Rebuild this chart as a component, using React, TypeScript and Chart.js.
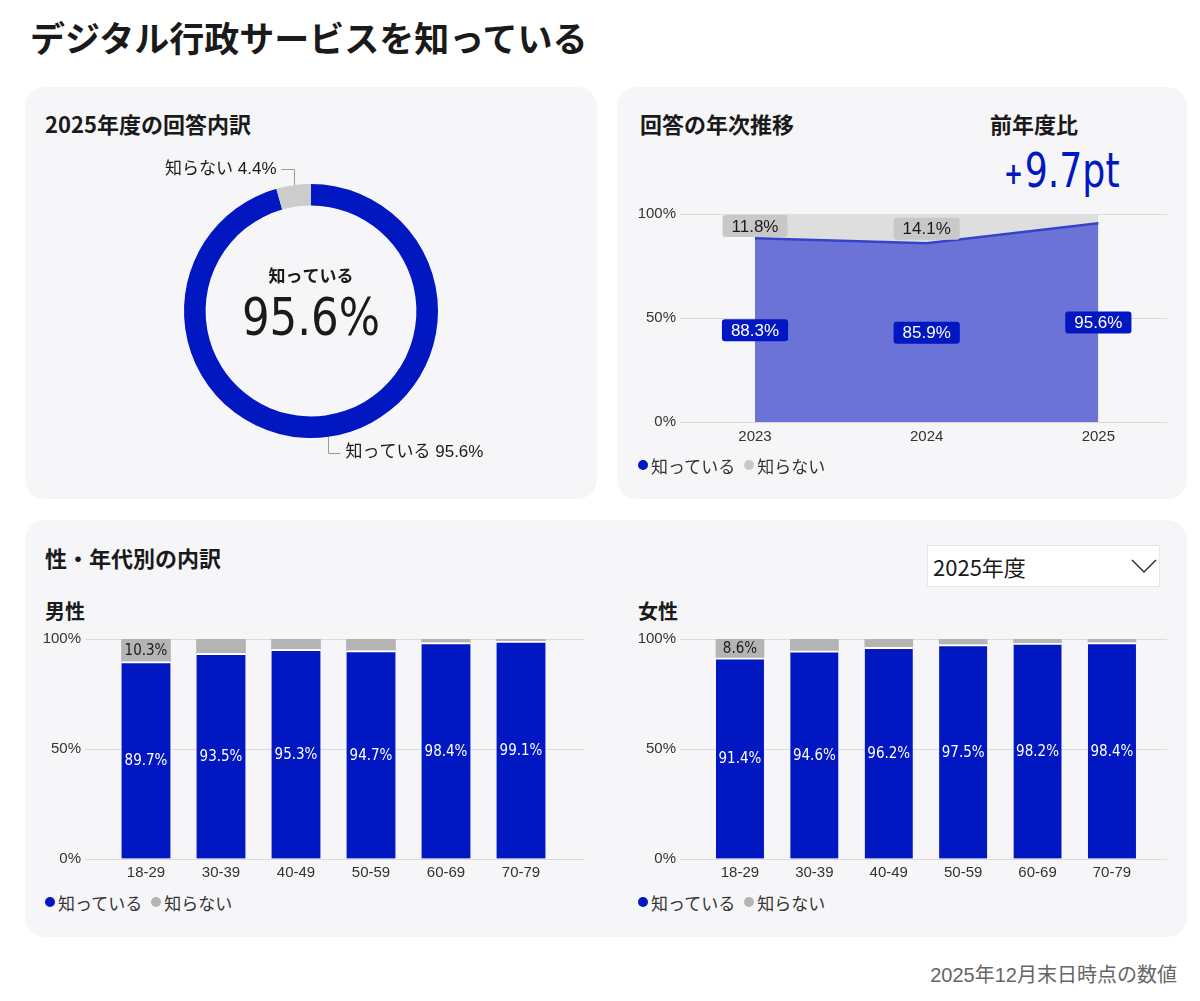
import React, { useEffect, useRef } from 'react';
import { Chart, registerables } from 'chart.js';

Chart.register(...registerables);

// ---------- data ----------
const seriesLabels = ['知っている', '知らない'];
const donutValues = [95.6, 4.4];

const years = [2023, 2024, 2025];
const knowTrend = [88.3, 85.9, 95.6];
const unknownTrend = [11.8, 14.1, 4.4];

const ageGroups = ['18-29', '30-39', '40-49', '50-59', '60-69', '70-79'];
const maleKnow = [89.7, 93.5, 95.3, 94.7, 98.4, 99.1];
const maleUnknown = [10.3, 6.5, 4.7, 5.3, 1.6, 0.9];
const femaleKnow = [91.4, 94.6, 96.2, 97.5, 98.2, 98.4];
const femaleUnknown = [8.6, 5.4, 3.8, 2.5, 1.8, 1.6];

// ---------- style ----------
const BLUE = '#0017c1';
const AREA_BLUE = '#6b74d6';
const AREA_LINE = '#3443c9';
const AREA_GREY = '#dedede';
const LABEL_GREY = '#c8c8c8';
const BAR_GREY = '#b4b4b4';
const PANEL_BG = '#f6f6f8';
const TEXT = '#1a1a1a';
const JP = "'Noto Sans CJK JP', sans-serif";
const SANS = "'Liberation Sans', 'Noto Sans CJK JP', sans-serif";
const COND = "'DejaVu Sans Condensed', 'Liberation Sans Narrow', 'DejaVu Sans', sans-serif";

Chart.defaults.font.family = SANS;

// ---------- plugins ----------
const donutPlugin = {
  id: 'donutLabels',
  afterDraw(chart: any) {
    const ctx = chart.ctx;
    const meta = chart.getDatasetMeta(0);
    const ds = chart.data.datasets[0];
    ctx.save();
    let cx = 0, cy = 0;
    meta.data.forEach((arc: any, i: number) => {
      const p = arc.getProps(['x', 'y', 'startAngle', 'endAngle', 'outerRadius'], true);
      cx = p.x; cy = p.y;
      const mid = (p.startAngle + p.endAngle) / 2;
      const px = p.x + Math.cos(mid) * p.outerRadius;
      const py = p.y + Math.sin(mid) * p.outerRadius;
      const vdir = Math.sin(mid) < 0 ? -1 : 1;
      const hdir = Math.cos(mid) < 0 ? -1 : 1;
      const ey = py + vdir * 16;
      const ex = px + hdir * 12;
      ctx.strokeStyle = '#9a9a9a';
      ctx.lineWidth = 1;
      ctx.beginPath();
      ctx.moveTo(Math.round(px) + 0.5, py);
      ctx.lineTo(Math.round(px) + 0.5, Math.round(ey) + 0.5);
      ctx.lineTo(ex, Math.round(ey) + 0.5);
      ctx.stroke();
      ctx.font = `17px ${SANS}`;
      ctx.fillStyle = TEXT;
      ctx.textBaseline = 'middle';
      ctx.textAlign = hdir < 0 ? 'right' : 'left';
      ctx.fillText(`${chart.data.labels[i]} ${ds.data[i].toFixed(1)}%`, ex + hdir * 5, ey);
    });
    ctx.textAlign = 'center';
    ctx.textBaseline = 'middle';
    ctx.fillStyle = TEXT;
    ctx.font = `bold 17px ${JP}`;
    ctx.fillText(chart.data.labels[0], cx, cy - 35);
    ctx.font = `52px ${COND}`;
    ctx.translate(cx, cy + 10);
    ctx.scale(0.93, 1);
    ctx.fillText(`${ds.data[0].toFixed(1)}%`, 0, 0);
    ctx.restore();
  },
};

function makeSegmentLabels(styles: any[], minHeight: number, boxed: boolean) {
  return {
    id: 'segmentLabels',
    afterDatasetsDraw(chart: any) {
      const ctx = chart.ctx;
      const yScale = chart.scales.y;
      ctx.save();
      chart.data.datasets.forEach((ds: any, di: number) => {
        const meta = chart.getDatasetMeta(di);
        meta.data.forEach((el: any, j: number) => {
          let base = 0;
          for (let k = 0; k < di; k++) base += chart.data.datasets[k].data[j].y;
          const v = ds.data[j].y;
          const top = yScale.getPixelForValue(base + v);
          const bot = yScale.getPixelForValue(base);
          if (bot - top < minHeight) return;
          const cy = (top + bot) / 2;
          const st = styles[di];
          const text = `${v.toFixed(1)}%`;
          ctx.font = st.font;
          ctx.textAlign = 'center';
          ctx.textBaseline = 'middle';
          if (boxed) {
            const w = ctx.measureText(text).width + 18;
            const h = 22;
            ctx.fillStyle = st.box;
            ctx.beginPath();
            ctx.roundRect(el.x - w / 2, cy - h / 2, w, h, 3);
            ctx.fill();
          }
          ctx.fillStyle = st.color;
          ctx.fillText(text, el.x, cy + 1);
        });
      });
      ctx.restore();
    },
  };
}

const yAxis = (width: number) => ({
  stacked: true,
  min: 0,
  max: 100,
  ticks: {
    stepSize: 50,
    callback: (v: any) => `${v}%`,
    color: '#333',
    font: { size: 15 },
    padding: 4,
  },
  grid: { color: '#dcdcdc', drawTicks: false },
  border: { display: false },
  afterFit: (s: any) => { s.width = width; },
});

// ---------- charts ----------
function useChart(ref: any, factory: () => any) {
  useEffect(() => {
    const chart = new Chart(ref.current, factory());
    return () => chart.destroy();
  }, []);
}

function Canvas({ cref, left, top, width, height }: any) {
  return (
    <canvas
      ref={cref}
      width={width}
      height={height}
      style={{ position: 'absolute', left, top, width, height }}
    />
  );
}

function Donut() {
  const ref = useRef<HTMLCanvasElement>(null);
  useChart(ref, () => ({
    type: 'doughnut',
    data: {
      labels: seriesLabels,
      datasets: [{ data: donutValues, backgroundColor: [BLUE, '#cccccc'], borderWidth: 0 }],
    },
    options: {
      responsive: false,
      animation: false,
      events: [],
      cutout: '83%',
      layout: { padding: { left: 63, right: 63, top: 43, bottom: 43 } },
      plugins: { legend: { display: false }, tooltip: { enabled: false } },
    },
    plugins: [donutPlugin],
  }));
  return <Canvas cref={ref} left={121} top={141} width={380} height={340} />;
}

function TrendArea() {
  const ref = useRef<HTMLCanvasElement>(null);
  useChart(ref, () => ({
    type: 'line',
    data: {
      datasets: [
        {
          label: seriesLabels[0],
          data: years.map((x, i) => ({ x, y: knowTrend[i] })),
          fill: 'origin',
          backgroundColor: AREA_BLUE,
          borderColor: AREA_LINE,
          borderWidth: 2.5,
          pointRadius: 0,
          tension: 0,
        },
        {
          label: seriesLabels[1],
          data: years.map((x, i) => ({ x, y: unknownTrend[i] })),
          fill: '-1',
          backgroundColor: AREA_GREY,
          borderColor: 'rgba(0,0,0,0)',
          borderWidth: 0,
          pointRadius: 0,
          tension: 0,
        },
      ],
    },
    options: {
      responsive: false,
      animation: false,
      events: [],
      layout: { padding: { top: 14, right: 13, left: 0, bottom: 0 } },
      plugins: { legend: { display: false }, tooltip: { enabled: false } },
      scales: {
        x: {
          type: 'linear',
          min: 2022.563,
          max: 2025.4,
          offset: false,
          grid: { display: false, drawTicks: false },
          border: { display: false },
          afterBuildTicks: (s: any) => { s.ticks = years.map((value) => ({ value })); },
          ticks: { callback: (v: any) => String(v), color: '#333', font: { size: 15 }, padding: 6, autoSkip: false, maxRotation: 0 },
          afterFit: (s: any) => { s.height = 33; },
        },
        y: yAxis(60),
      },
    },
    plugins: [
      makeSegmentLabels(
        [
          { font: `17px ${SANS}`, color: '#ffffff', box: BLUE },
          { font: `17px ${SANS}`, color: TEXT, box: LABEL_GREY },
        ],
        16,
        true,
      ),
    ],
  }));
  return <Canvas cref={ref} left={620} top={200} width={560} height={255} />;
}

function AgeBars({ know, unknown, left, width, rightPad, xMin, xMax, thickness }: any) {
  const ref = useRef<HTMLCanvasElement>(null);
  useChart(ref, () => ({
    type: 'bar',
    data: {
      datasets: [
        {
          label: seriesLabels[0],
          data: know.map((y: number, x: number) => ({ x, y })),
          backgroundColor: BLUE,
          borderColor: '#ffffff',
          borderWidth: { top: 2, left: 0, right: 0, bottom: 0 },
          borderSkipped: 'start',
          barThickness: thickness,
        },
        {
          label: seriesLabels[1],
          data: unknown.map((y: number, x: number) => ({ x, y })),
          backgroundColor: BAR_GREY,
          borderWidth: 0,
          barThickness: thickness,
        },
      ],
    },
    options: {
      responsive: false,
      animation: false,
      events: [],
      layout: { padding: { top: 14, right: rightPad, left: 0, bottom: 0 } },
      plugins: { legend: { display: false }, tooltip: { enabled: false } },
      scales: {
        x: {
          type: 'linear',
          stacked: true,
          min: xMin,
          max: xMax,
          offset: false,
          grid: { display: false, offset: false, drawTicks: false },
          border: { display: false },
          afterBuildTicks: (s: any) => { s.ticks = ageGroups.map((_, i) => ({ value: i })); },
          ticks: {
            callback: (v: any) => ageGroups[v] ?? '',
            color: '#333',
            font: { size: 15 },
            padding: 5,
            autoSkip: false,
            maxRotation: 0,
          },
          afterFit: (s: any) => { s.height = 26; },
        },
        y: yAxis(60),
      },
    },
    plugins: [
      makeSegmentLabels(
        [
          { font: `15px ${COND}`, color: '#ffffff' },
          { font: `15px ${COND}`, color: TEXT },
        ],
        16,
        false,
      ),
    ],
  }));
  return <Canvas cref={ref} left={left} top={625} width={width} height={260} />;
}

// ---------- html helpers ----------
function Txt({ x, cy, size, weight = 400, color = TEXT, family = JP, children, style }: any) {
  const lh = Math.round(size * 1.5);
  return (
    <div
      style={{
        position: 'absolute',
        left: x,
        top: cy - lh / 2,
        fontSize: size,
        lineHeight: `${lh}px`,
        fontWeight: weight,
        color,
        fontFamily: family,
        whiteSpace: 'nowrap',
        ...style,
      }}
    >
      {children}
    </div>
  );
}

function Legend({ x, cy, colors }: any) {
  return (
    <div
      style={{
        position: 'absolute',
        left: x,
        top: cy - 13,
        height: 26,
        display: 'flex',
        alignItems: 'center',
        fontFamily: JP,
        fontSize: 17,
        color: '#333',
        whiteSpace: 'nowrap',
      }}
    >
      {seriesLabels.map((l, i) => (
        <div key={l} style={{ display: 'flex', alignItems: 'center', marginRight: 9 }}>
          <span
            style={{
              display: 'inline-block',
              width: 10,
              height: 10,
              borderRadius: '50%',
              background: colors[i],
              marginRight: 3,
            }}
          />
          <span>{l}</span>
        </div>
      ))}
    </div>
  );
}

function Panel({ left, top, width, height }: any) {
  return (
    <div
      style={{
        position: 'absolute',
        left,
        top,
        width,
        height,
        borderRadius: 20,
        background: PANEL_BG,
      }}
    />
  );
}

export default function App() {
  const yoy = (knowTrend[knowTrend.length - 1] - knowTrend[knowTrend.length - 2]).toFixed(1);
  return (
    <div
      style={{
        position: 'absolute',
        left: 0,
        top: 0,
        width: 1200,
        height: 1001,
        background: '#ffffff',
        overflow: 'hidden',
        fontFamily: JP,
      }}
    >
      <Txt x={30} cy={36} size={35} weight={700}>デジタル行政サービスを知っている</Txt>

      <Panel left={25} top={87} width={572} height={412} />
      <Panel left={617} top={87} width={570} height={412} />
      <Panel left={25} top={520} width={1162} height={417} />

      <Txt x={45} cy={123} size={22} weight={700}>2025年度の回答内訳</Txt>
      <Donut />

      <Txt x={640} cy={123} size={22} weight={700}>回答の年次推移</Txt>
      <Txt x={990} cy={123} size={22} weight={700}>前年度比</Txt>
      <Txt
        x={1004}
        cy={170}
        size={48}
        color={BLUE}
        family={COND}
        style={{ transform: 'scaleX(0.84)', transformOrigin: 'left center' }}
      >
        <span style={{ fontSize: 30, fontWeight: 700, verticalAlign: 'middle', marginRight: 2 }}>+</span>
        {yoy}pt
      </Txt>
      <TrendArea />
      <Legend x={638} cy={465} colors={[BLUE, LABEL_GREY]} />

      <Txt x={45} cy={557} size={22} weight={700}>性・年代別の内訳</Txt>
      <div
        style={{
          position: 'absolute',
          left: 927,
          top: 545,
          width: 233,
          height: 42,
          background: '#ffffff',
          border: '1px solid #e6e6e6',
          boxSizing: 'border-box',
        }}
      >
        <svg width={26} height={16} style={{ position: 'absolute', left: 203, top: 12 }}>
          <polyline points="1,2 13,14 25,2" fill="none" stroke="#333" strokeWidth={1.5} />
        </svg>
      </div>
      <Txt x={933} cy={566} size={22}>2025年度</Txt>

      <Txt x={45} cy={611} size={20} weight={700}>男性</Txt>
      <Txt x={638} cy={611} size={20} weight={700}>女性</Txt>
      <AgeBars know={maleKnow} unknown={maleUnknown} left={25} width={570} rightPad={11} xMin={-0.8133} xMax={5.84} thickness={49} />
      <AgeBars know={femaleKnow} unknown={femaleUnknown} left={620} width={560} rightPad={13} xMin={-0.806} xMax={5.74} thickness={48} />
      <Legend x={45} cy={902} colors={[BLUE, BAR_GREY]} />
      <Legend x={638} cy={902} colors={[BLUE, BAR_GREY]} />

      <Txt x={0} cy={975} size={20} color="#666" family={SANS} style={{ left: 'auto', right: 23 }}>
        2025年12月末日時点の数値
      </Txt>
    </div>
  );
}
